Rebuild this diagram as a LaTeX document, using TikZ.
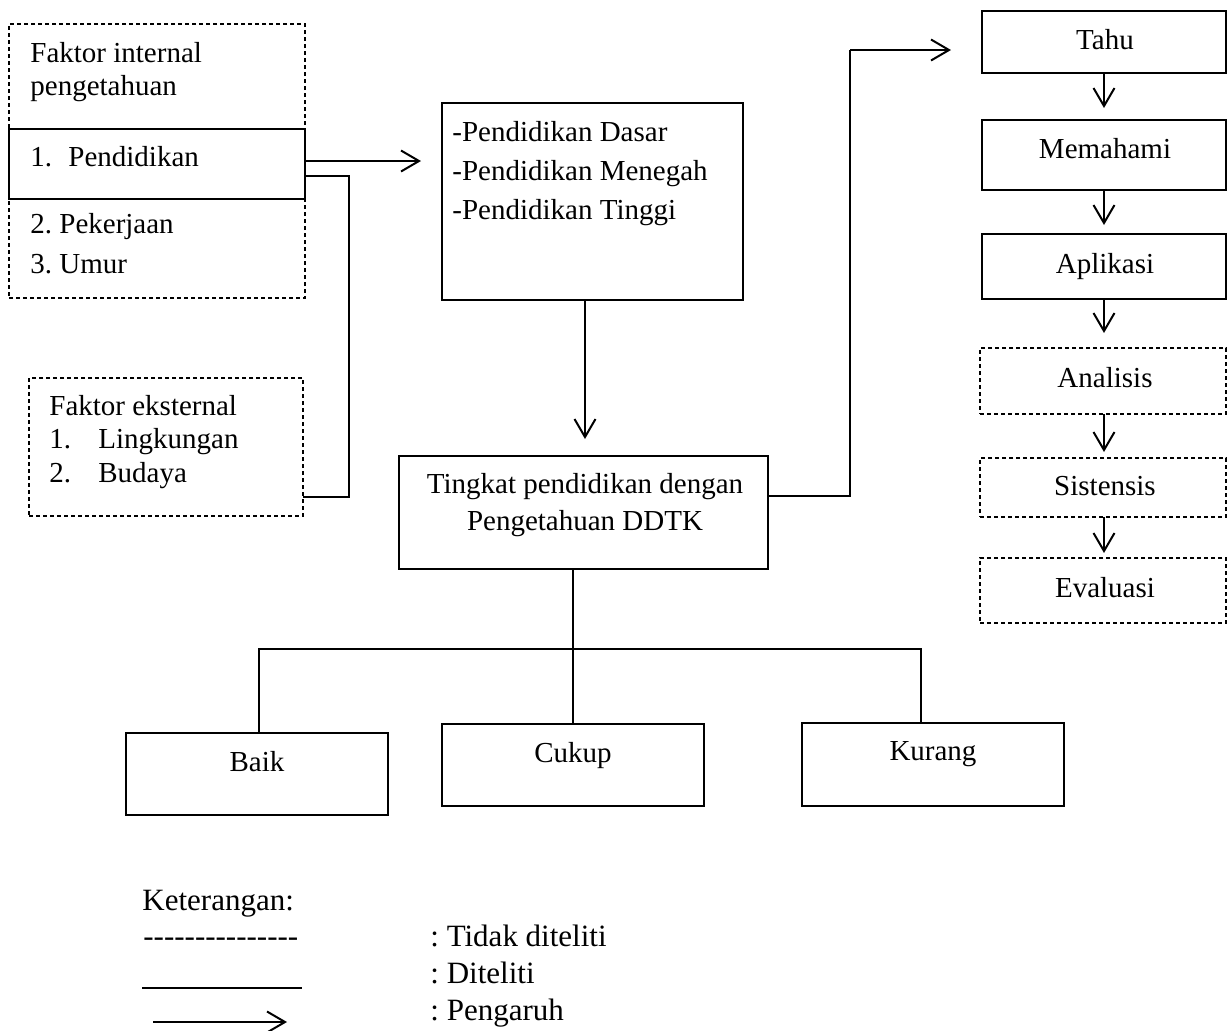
\documentclass[tikz,border=0pt]{standalone}
\usepackage{fontspec}
\setmainfont{Liberation Serif}
\usetikzlibrary{arrows.meta}
\frenchspacing
\newcommand\hy{-\kern0pt}
\tikzset{
  solidbox/.style={draw, line width=0.8pt, inner sep=0pt, outer sep=0pt},
  dashbox/.style={solidbox, dash pattern=on 2pt off 1.5pt},
  txt/.style={inner sep=0pt, anchor=base west, font=\fontsize{14.5pt}{17pt}\selectfont\frenchspacing},
  ctxt/.style={txt, anchor=base},
  ltxt/.style={txt, font=\fontsize{15.5pt}{18pt}\selectfont\frenchspacing},
  conn/.style={line width=1pt},
  arr/.style={conn, -{Straight Barb[length=9pt,width=10.5pt]}}
}
\begin{document}
\begin{tikzpicture}[x=0.5pt,y=-0.5pt]
\useasboundingbox (0,0) rectangle (1227,1030);

% left boxes
\node[dashbox, minimum width=148pt, minimum height=137pt] (intbox) at (157,161) {};
\node[solidbox, fill=white, minimum width=148pt, minimum height=35pt] (pendbox) at (157,164) {};
\node[dashbox, minimum width=137pt, minimum height=69pt] (extbox) at (166,447) {};

\node[txt] (ti1) at (30,62) {Faktor internal};
\node[txt] (ti2) at (30,95) {pengetahuan};
\node[txt] (ti3) at (30,166) {\makebox[19pt][l]{1.}Pendidikan};
\node[txt] (ti4) at (30,233) {2. Pekerjaan};
\node[txt] (ti5) at (30,273) {3. Umur};

\node[txt] (te1) at (49,415) {Faktor eksternal};
\node[txt] (te2) at (49,448) {\makebox[24.5pt][l]{1.}Lingkungan};
\node[txt] (te3) at (49,482) {\makebox[24.5pt][l]{2.}Budaya};

% levels box
\node[solidbox, minimum width=150.5pt, minimum height=98.5pt] (levels) at (592.5,201.5) {};
\node[txt] (tl1) at (452,141) {-Pendidikan Dasar};
\node[txt] (tl2) at (452,180) {-Pendidikan Menegah};
\node[txt] (tl3) at (452,219) {-Pendidikan Tinggi};

% tingkat box
\node[solidbox, minimum width=184.5pt, minimum height=56.5pt] (tingkat) at (583.5,512.5) {};
\node[ctxt] (tt1) at (585,493) {Tingkat pendidikan dengan};
\node[ctxt] (tt2) at (585,530) {Pengetahuan DDTK};

% right column
\node[solidbox, minimum width=122pt, minimum height=31pt] (tahu) at (1104,42) {};
\node[solidbox, minimum width=122pt, minimum height=35pt] (memahami) at (1104,155) {};
\node[solidbox, minimum width=122pt, minimum height=32.5pt] (aplikasi) at (1104,266.5) {};
\node[dashbox, minimum width=123pt, minimum height=33pt] (analisis) at (1103,381) {};
\node[dashbox, minimum width=123pt, minimum height=29.5pt] (sistensis) at (1103,487.5) {};
\node[dashbox, minimum width=123pt, minimum height=32.5pt] (evaluasi) at (1103,590.5) {};

\node[ctxt] (tr1) at (1105,49) {Tahu};
\node[ctxt] (tr2) at (1105,158) {Memahami};
\node[ctxt] (tr3) at (1105,273) {Aplikasi};
\node[ctxt] (tr4) at (1105,387) {Analisis};
\node[ctxt] (tr5) at (1105,495) {Sistensis};
\node[ctxt] (tr6) at (1105,597) {Evaluasi};

% bottom boxes
\node[solidbox, minimum width=131pt, minimum height=41pt] (baik) at (257,774) {};
\node[solidbox, minimum width=131pt, minimum height=41pt] (cukup) at (573,765) {};
\node[solidbox, minimum width=131pt, minimum height=41.5pt] (kurang) at (933,764.5) {};
\node[ctxt] (tb1) at (257,771) {Baik};
\node[ctxt] (tb2) at (573,762) {Cukup};
\node[ctxt] (tb3) at (933,760) {Kurang};

% connectors
\coordinate (a1) at (421,161);
\draw[arr] (pendbox.east |- a1) -- (a1);

\coordinate (b1) at (349,176);
\coordinate (b2) at (349,497);
\draw[conn] (pendbox.east |- b1) -- (b1) -- (b2) -- (extbox.east |- b2);

\coordinate (a2) at (585,439);
\draw[arr] (levels.south -| a2) -- (a2);

\coordinate (c1) at (850,496);
\coordinate (c2) at (850,50);
\coordinate (a3) at (951,50);
\draw[conn] (tingkat.east |- c1) -- (c1) -- (c2);
\draw[arr] (c2) -- (a3);

\coordinate (r1) at (1104,108);
\coordinate (r2) at (1104,225);
\coordinate (r3) at (1104,333);
\coordinate (r4) at (1104,452);
\coordinate (r5) at (1104,553);
\draw[arr] (tahu.south -| r1) -- (r1);
\draw[arr] (memahami.south -| r2) -- (r2);
\draw[arr] (aplikasi.south -| r3) -- (r3);
\draw[arr] (analisis.south -| r4) -- (r4);
\draw[arr] (sistensis.south -| r5) -- (r5);

\draw[conn] (tingkat.south -| cukup.north) -- (cukup.north);
\coordinate (h1) at (259,649);
\coordinate (h2) at (921,649);
\draw[conn] (h1 |- baik.north) -- (h1) -- (h2) -- (h2 |- kurang.north);

% legend
\node[ltxt] (k0) at (142,910) {Keterangan:};
\node[ltxt] (k1) at (143,946) {\hy\hy\hy\hy\hy\hy\hy\hy\hy\hy\hy\hy\hy\hy\hy};
\coordinate (l1) at (142,988);
\coordinate (l2) at (302,988);
\draw[line width=0.8pt] (l1) -- (l2);
\coordinate (l3) at (153,1022);
\coordinate (l4) at (287,1022);
\draw[arr] (l3) -- (l4);
\node[ltxt] (k2) at (430,946) {: Tidak diteliti};
\node[ltxt] (k3) at (430,983) {: Diteliti};
\node[ltxt] (k4) at (430,1020) {: Pengaruh};
\end{tikzpicture}
\end{document}
